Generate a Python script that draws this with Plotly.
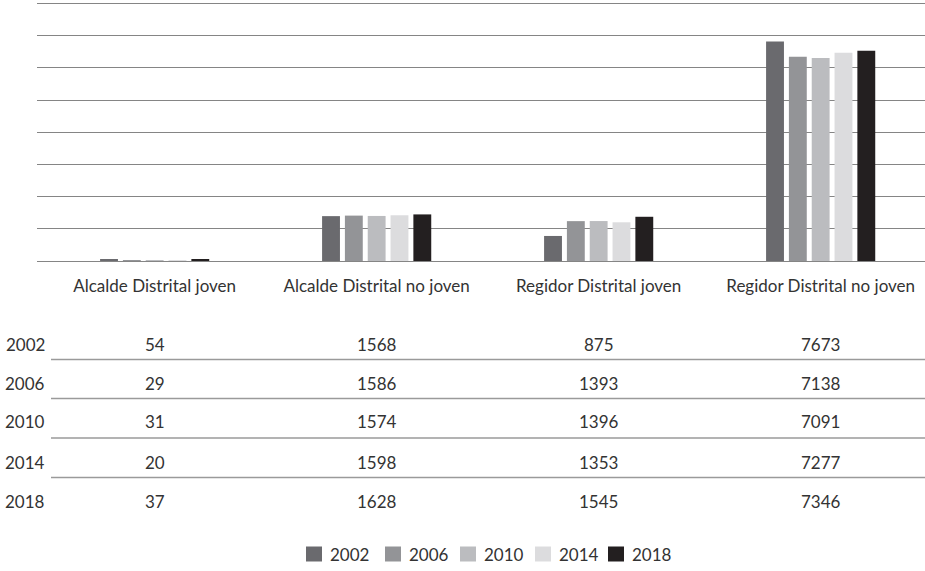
import plotly.graph_objects as go

# Categories and yearly counts
categories = [
    "Alcalde Distrital joven",
    "Alcalde Distrital no joven",
    "Regidor Distrital joven",
    "Regidor Distrital no joven",
]
years = ["2002", "2006", "2010", "2014", "2018"]
values_2002 = [54, 1568, 875, 7673]
values_2006 = [29, 1586, 1393, 7138]
values_2010 = [31, 1574, 1396, 7091]
values_2014 = [20, 1598, 1353, 7277]
values_2018 = [37, 1628, 1545, 7346]
series = [values_2002, values_2006, values_2010, values_2014, values_2018]
colors = ["#6a6a6e", "#939497", "#bbbcbf", "#dcdcde", "#231f20"]

W, H = 925, 571
M_L, M_R, M_T, M_B = 37, 0, 2, 310
PLOT_H = H - M_T - M_B
PLOT_W = W - M_L - M_R

FONT = "Lato"
TEXT = "#333333"
GRID = "#858585"


def paper_y(px):
    """Convert a pixel row of the page to paper y coordinates."""
    return (H - M_B - px) / PLOT_H


def paper_x(px):
    return (px - M_L) / PLOT_W


fig = go.Figure()
for year, vals, col in zip(years, series, colors):
    fig.add_trace(go.Bar(name=year, x=categories, y=vals, marker_color=col,
                         marker_line_width=0, showlegend=False))

# Data table under the chart
row_y = [344, 383, 422, 462, 501]
ann = []
shapes = []
for i, (year, vals) in enumerate(zip(years, series)):
    ann.append(dict(x=paper_x(47), y=paper_y(row_y[i]), xref="paper", yref="paper",
                    text=year, showarrow=False, xanchor="right", yanchor="middle",
                    font=dict(family=FONT, size=17, color=TEXT)))
    for cat, v in zip(categories, vals):
        ann.append(dict(x=cat, y=paper_y(row_y[i]), xref="x", yref="paper",
                        text=str(v), showarrow=False, xanchor="center", yanchor="middle",
                        font=dict(family=FONT, size=17, color=TEXT)))
    if i < len(years) - 1:
        ly = paper_y((row_y[i] + row_y[i + 1]) / 2 - 4)
        shapes.append(dict(type="line", xref="paper", yref="paper",
                           x0=paper_x(51), x1=1, y0=ly, y1=ly,
                           line=dict(color="#9a9a9a", width=1.3)))

# Legend row: colour key squares followed by the year
legend_x = [306, 385, 460, 535, 608]
legend_y = 554
for year, col, lx in zip(years, colors, legend_x):
    shapes.append(dict(type="rect", xref="paper", yref="paper",
                       x0=paper_x(lx), x1=paper_x(lx + 16),
                       y0=paper_y(legend_y - 7.5), y1=paper_y(legend_y + 7.5),
                       fillcolor=col, line=dict(width=0)))
    ann.append(dict(x=paper_x(lx + 22), y=paper_y(legend_y), xref="paper", yref="paper",
                    text=year, showarrow=False, xanchor="left", yanchor="middle",
                    font=dict(family=FONT, size=17, color=TEXT)))

fig.update_layout(
    width=W, height=H,
    margin=dict(l=M_L, r=M_R, t=M_T, b=M_B),
    paper_bgcolor="white", plot_bgcolor="white",
    barmode="group", bargap=0.486, bargroupgap=0.217,
    font=dict(family=FONT, size=16, color=TEXT),
    xaxis=dict(range=[-0.53, 3.47], showgrid=False, showline=False, zeroline=False,
               ticks="outside", ticklen=10, tickcolor="rgba(0,0,0,0)",
               tickfont=dict(family=FONT, size=17, color=TEXT)),
    yaxis=dict(range=[0, 9050], tick0=0, dtick=1125, showticklabels=False,
               showgrid=True, gridcolor=GRID, gridwidth=1.3,
               zeroline=True, zerolinecolor=GRID, zerolinewidth=1.3,
               showline=False, ticks=""),
    showlegend=False,
    annotations=ann,
    shapes=shapes,
)

fig.write_html("out.html")
